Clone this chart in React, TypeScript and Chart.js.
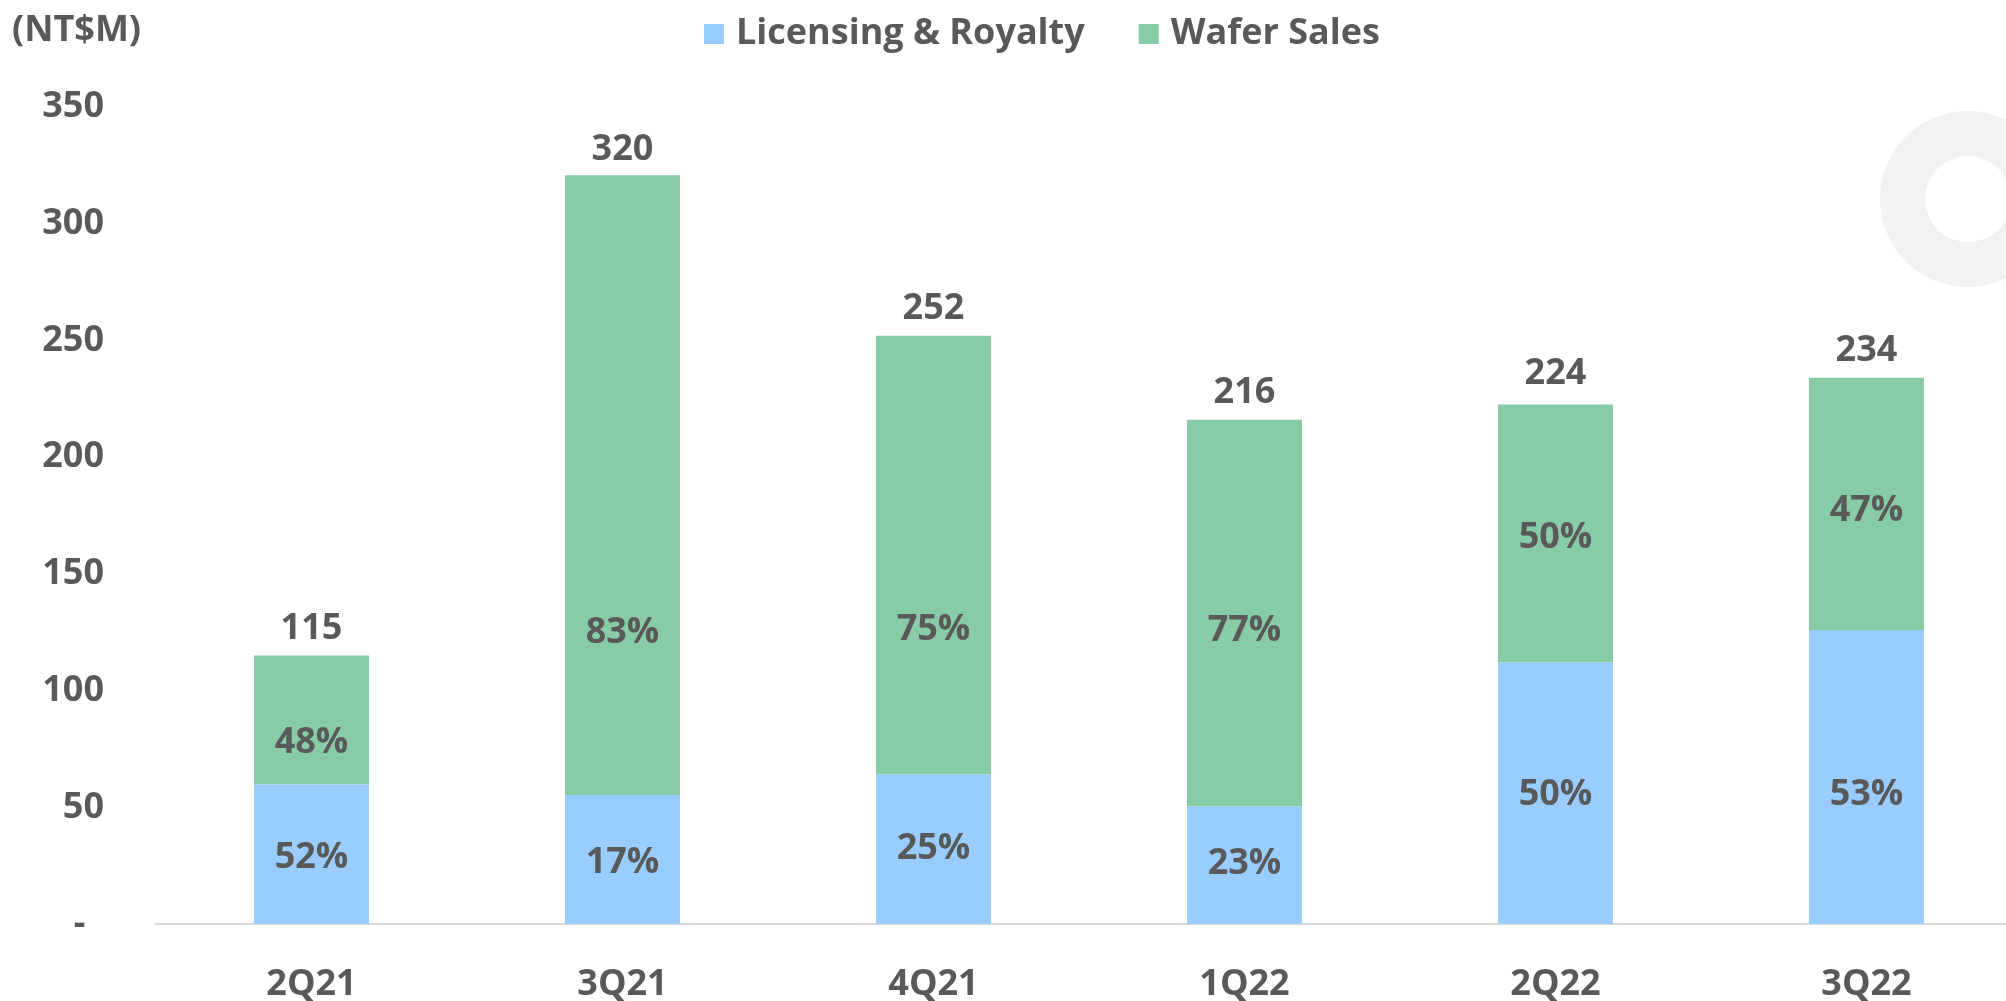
import React, { useEffect, useRef } from "react";
import { Chart, registerables } from "chart.js";

Chart.register(...registerables);

// ---- Data ----
const categories = ["2Q21", "3Q21", "4Q21", "1Q22", "2Q22", "3Q22"];
const licensingValues = [59.8, 55.3, 64, 50.3, 112, 126];
const waferValues = [55.2, 265.5, 188, 165.7, 110.5, 108];
const totalLabels = [115, 320, 252, 216, 224, 234];
const licensingPct = ["52%", "17%", "25%", "23%", "50%", "53%"];
const waferPct = ["48%", "83%", "75%", "77%", "50%", "47%"];
const licensingPctAnchor = [29.6, 27.4, 33.5, 26.9, 56.5, 56.5];
const waferPctAnchor = [79, 126.2, 127.3, 126.7, 166.8, 178.3];
const seriesNames = ["Licensing & Royalty", "Wafer Sales"];
const unitLabel = "(NT$M)";

// ---- Styles ----
const BLUE = "#99CCFF";
const GREEN = "#88CCA6";
const TEXT = "#595959";
const FONT = "'Open Sans', 'Noto Sans', sans-serif";
const W = 2006;
const H = 1001;
const CANVAS_W = 2022;

const decorPlugin = {
  id: "decor",
  beforeDraw(chart: any) {
    const ctx = chart.ctx;
    ctx.save();
    ctx.fillStyle = "#ffffff";
    ctx.fillRect(0, 0, chart.width, chart.height);
    // light grey ring decoration
    ctx.beginPath();
    ctx.arc(1968, 199, 88, 0, Math.PI * 2);
    ctx.arc(1968, 199, 43, 0, Math.PI * 2, true);
    ctx.fillStyle = "#F2F2F2";
    ctx.fill("evenodd");
    ctx.restore();
  },
  afterDraw(chart: any) {
    const ctx = chart.ctx;
    ctx.save();
    ctx.font = `bold 36px ${FONT}`;
    ctx.fillStyle = TEXT;
    ctx.textBaseline = "middle";
    ctx.textAlign = "left";
    ctx.fillText(unitLabel, 12, 31);
    // legend
    let x = 704;
    const y = 34;
    chart.data.datasets.forEach((ds: any) => {
      ctx.fillStyle = ds.backgroundColor;
      ctx.fillRect(x, y - 10, 20, 20);
      ctx.fillStyle = TEXT;
      const tx = x + 32;
      ctx.fillText(ds.label, tx, y);
      x = tx + ctx.measureText(ds.label).width + 54;
    });
    ctx.restore();
  },
};

const labelPlugin = {
  id: "barLabels",
  afterDatasetsDraw(chart: any) {
    const ctx = chart.ctx;
    const yScale = chart.scales.y;
    const m0 = chart.getDatasetMeta(0);
    const m1 = chart.getDatasetMeta(1);
    ctx.save();
    ctx.font = `bold 36px ${FONT}`;
    ctx.fillStyle = TEXT;
    ctx.textAlign = "center";
    ctx.textBaseline = "middle";
    categories.forEach((_, i) => {
      const b0 = m0.data[i];
      const b1 = m1.data[i];
      ctx.fillText(licensingPct[i], b0.x, yScale.getPixelForValue(licensingPctAnchor[i]) + 3);
      ctx.fillText(waferPct[i], b1.x, yScale.getPixelForValue(waferPctAnchor[i]) + 3);
      ctx.fillText(String(totalLabels[i]), b1.x, yScale.getPixelForValue(totalLabels[i]) - 27);
    });
    ctx.restore();
  },
};

export default function App() {
  const ref = useRef<HTMLCanvasElement | null>(null);
  useEffect(() => {
    if (!ref.current) return;
    const chart = new Chart(ref.current, {
      type: "bar",
      data: {
        labels: categories,
        datasets: [
          {
            label: seriesNames[0],
            data: licensingValues,
            backgroundColor: BLUE,
            borderWidth: 0,
            categoryPercentage: 1,
            barPercentage: 0.37,
          },
          {
            label: seriesNames[1],
            data: waferValues,
            backgroundColor: GREEN,
            borderWidth: 0,
            categoryPercentage: 1,
            barPercentage: 0.37,
          },
        ],
      },
      options: {
        responsive: false,
        animation: false,
        devicePixelRatio: 1,
        layout: { padding: { top: 107, right: 0, left: 0, bottom: 0 } },
        plugins: {
          legend: { display: false },
          tooltip: { enabled: false },
        },
        scales: {
          x: {
            stacked: true,
            grid: { display: false, drawTicks: false },
            border: { display: true, color: "#D9D9D9", width: 2 },
            ticks: {
              color: TEXT,
              font: { family: FONT, size: 36, weight: "bold" },
              padding: 39,
              maxRotation: 0,
            },
            afterFit: (scale: any) => {
              scale.height = 77;
            },
          },
          y: {
            stacked: true,
            min: 0,
            max: 350,
            grid: { display: false, drawTicks: false },
            border: { display: false },
            ticks: {
              stepSize: 50,
              color: TEXT,
              padding: 52,
              font: { family: FONT, size: 36, weight: "bold" },
              callback: (v: any) => (Number(v) === 0 ? "-  " : String(v)),
            },
            afterFit: (scale: any) => {
              scale.width = 156;
            },
          },
        },
      },
      plugins: [decorPlugin, labelPlugin],
    });
    return () => chart.destroy();
  }, []);
  return (
    <div style={{ position: "absolute", left: 0, top: 0, width: W, height: H, overflow: "hidden" }}>
      <canvas ref={ref} width={CANVAS_W} height={H} style={{ display: "block", width: CANVAS_W, height: H }} />
    </div>
  );
}
